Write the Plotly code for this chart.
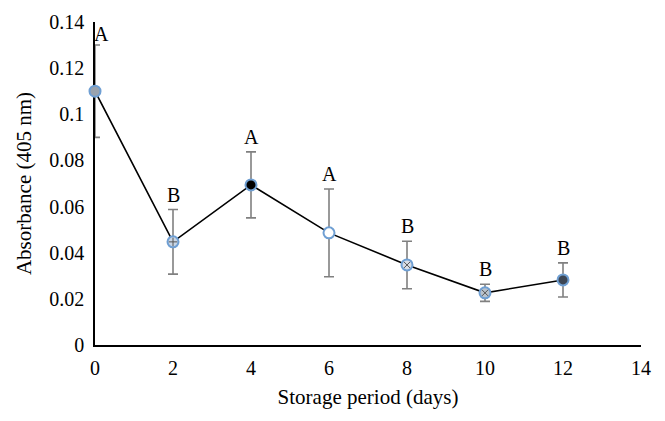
import plotly.graph_objects as go

days = [0, 2, 4, 6, 8, 10, 12]
absorbance = [0.110, 0.0447, 0.0694, 0.0486, 0.0347, 0.0226, 0.0282]
errors = [0.020, 0.014, 0.0143, 0.019, 0.0103, 0.0037, 0.0074]
letters = ["A", "B", "A", "A", "B", "B", "B"]
marker_fills = ["#9aa3ae", "#c9d6e6", "#000000", "#ffffff", "#d8dde6", "#b9c2cc", "#3d4654"]
inner_symbols = [None, "cross-thin", None, None, "x-thin", "x-thin", None]
x_ticks = [0, 2, 4, 6, 8, 10, 12, 14]
y_ticks = [0, 0.02, 0.04, 0.06, 0.08, 0.1, 0.12, 0.14]
y_tick_labels = ["0", "0.02", "0.04", "0.06", "0.08", "0.1", "0.12", "0.14"]

FONT = "Liberation Serif"

fig = go.Figure()
fig.add_trace(go.Scatter(
    x=days, y=absorbance, mode="lines+markers", cliponaxis=False,
    line=dict(color="black", width=1.6),
    error_y=dict(type="data", array=errors, visible=True, color="#808080", thickness=1.6, width=5),
    marker=dict(size=11, color=marker_fills, line=dict(color="#6f9fd3", width=2)),
    showlegend=False, hoverinfo="skip",
))
ix = [d for d, s in zip(days, inner_symbols) if s]
iy = [a for a, s in zip(absorbance, inner_symbols) if s]
isym = [s for s in inner_symbols if s]
fig.add_trace(go.Scatter(
    x=ix, y=iy, mode="markers", cliponaxis=False,
    marker=dict(size=6, symbol=isym, color="rgba(0,0,0,0)", line=dict(color="#555555", width=1)),
    showlegend=False, hoverinfo="skip",
))

for d, a, e, t in zip(days, absorbance, errors, letters):
    fig.add_annotation(x=d, y=a + e, text=t, showarrow=False, yanchor="bottom",
                       xshift=6 if d == 0 else 0, yshift=-2 if d == 0 else 2,
                       font=dict(family=FONT, size=20, color="black"))

fig.update_layout(
    width=665, height=421,
    margin=dict(l=87, r=32, t=14, b=84),
    paper_bgcolor="white", plot_bgcolor="white",
    font=dict(family=FONT, size=20, color="black"),
    xaxis=dict(range=[0, 14], tickvals=x_ticks, showgrid=False, zeroline=False, automargin=False,
               showline=True, linecolor="black", linewidth=1.6, ticks="", ticklabelstandoff=4,
               layer="below traces",
               title=dict(text="Storage period (days)", font=dict(family=FONT, size=21), standoff=12),
               tickfont=dict(family=FONT, size=20)),
    yaxis=dict(range=[0, 0.14], tickvals=y_ticks, ticktext=y_tick_labels, showgrid=False, automargin=False,
               zeroline=False, showline=True, linecolor="black", linewidth=1.6, ticks="", ticklabelstandoff=5,
               layer="below traces",
               title=dict(text="Absorbance (405 nm)", font=dict(family=FONT, size=21), standoff=12),
               tickfont=dict(family=FONT, size=20)),
)

fig.write_html("out.html")
